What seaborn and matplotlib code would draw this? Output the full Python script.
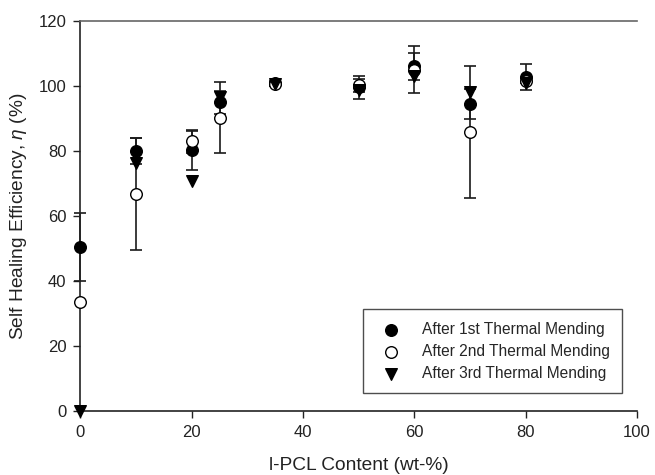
import matplotlib
matplotlib.use("Agg")
import matplotlib.pyplot as plt
import seaborn as sns
import numpy as np
import pandas as pd

# ---- data ----
content = [0, 10, 20, 25, 35, 50, 60, 70, 80]
first = [50.5, 80.1, 80.3, 95.0, 100.8, 99.6, 106.0, 94.6, 102.8]
first_err = [10.5, 4.0, 6.0, 3.5, 0.8, 3.5, 4.2, 4.6, 4.0]
second = [33.5, 66.7, 83.0, 90.2, 100.5, 100.3, 105.0, 85.9, 101.6]
second_err = [0.0, 17.3, 3.5, 10.9, 0.6, 2.0, 7.3, 20.3, 0.8]
third = [0.0, 76.3, 70.8, 96.5, 100.6, 98.8, 103.2, 98.3, 101.0]
labels = ["After 1st Thermal Mending", "After 2nd Thermal Mending", "After 3rd Thermal Mending"]
xticks = [0, 20, 40, 60, 80, 100]
yticks = [0, 20, 40, 60, 80, 100, 120]

sns.set_style("white")
plt.rcParams["font.family"] = ["Liberation Sans", "DejaVu Sans"]
plt.rcParams["mathtext.fontset"] = "custom"
plt.rcParams["mathtext.it"] = "Liberation Sans:italic"
plt.rcParams["mathtext.rm"] = "Liberation Sans"

fig = plt.figure(figsize=(6.55, 4.75), dpi=100)
ax = fig.add_axes([0.1229, 0.1347, 0.8496, 0.8211])

df = pd.DataFrame({"x": content, "first": first, "first_err": first_err,
                   "second": second, "second_err": second_err, "third": third})

# error bars
for col, ecol in [("first", "first_err"), ("second", "second_err")]:
    sub = df[df[ecol] > 0]
    ax.errorbar(sub["x"], sub[col], yerr=sub[ecol], fmt="none", ecolor="#1a1a1a",
                elinewidth=1.2, capsize=4, capthick=1.2, clip_on=False, zorder=2)

ms = 70
sns.scatterplot(data=df, x="x", y="first", marker="o", color="black", edgecolor="black",
                linewidth=1, s=ms, ax=ax, label=labels[0], clip_on=False, zorder=3)
sns.scatterplot(data=df, x="x", y="second", marker="o", color="white", edgecolor="black",
                linewidth=1, s=ms, ax=ax, label=labels[1], clip_on=False, zorder=4)
sns.scatterplot(data=df, x="x", y="third", marker="v", color="black", edgecolor="black",
                linewidth=1, s=ms, ax=ax, label=labels[2], clip_on=False, zorder=5)

ax.set_xlim(0, 100)
ax.set_ylim(0, 120)
ax.set_xticks(xticks)
ax.set_yticks(yticks)
ax.tick_params(axis="both", direction="out", length=5, width=1, color="#222222",
               labelsize=12, labelcolor="#222222", left=True, bottom=True, pad=5)

for s in ["left", "bottom"]:
    ax.spines[s].set_color("#222222")
    ax.spines[s].set_linewidth(1.2)
ax.spines["top"].set_color("#666666")
ax.spines["top"].set_linewidth(1.2)
ax.spines["right"].set_visible(False)

ax.set_xlabel("l-PCL Content (wt-%)", fontsize=13.8, color="#222222", labelpad=12)
ax.set_ylabel(r"Self Healing Efficiency, $\mathit{\eta}$ (%)", fontsize=13.8, color="#222222", labelpad=7)

leg = ax.legend(loc="lower right", bbox_to_anchor=(0.973, 0.046), borderaxespad=0,
                fontsize=11.2, frameon=True, fancybox=False, edgecolor="#222222",
                borderpad=0.8, handletextpad=1.0, labelspacing=0.45, markerscale=1.0)
leg.get_frame().set_linewidth(1.0)

fig.savefig("out.png", dpi=100)
